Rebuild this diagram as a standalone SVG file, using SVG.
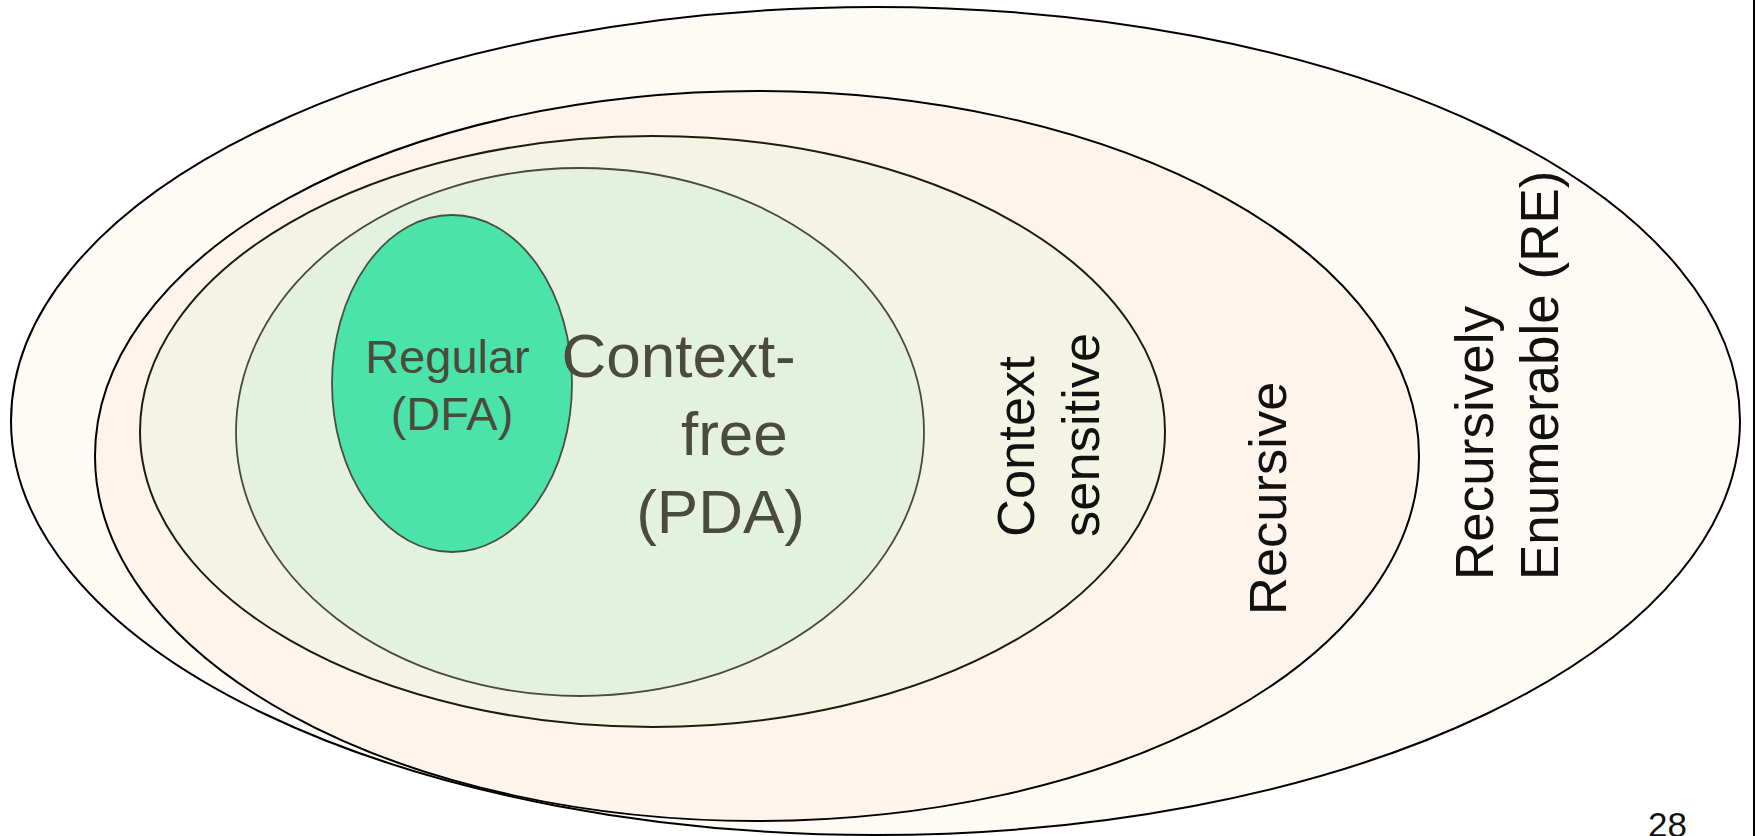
<svg xmlns="http://www.w3.org/2000/svg" width="1756" height="836" viewBox="0 0 1756 836">
  <style>
    .set { stroke-width: 2; }
    .lbl { font-family: "Liberation Sans", Arial, sans-serif; }
    .dark { fill: #4b4b3c; }
    .black { fill: #111111; }
  </style>
  <rect width="1756" height="836" fill="#ffffff"/>

  <!-- Recursively enumerable -->
  <g id="re">
    <ellipse class="set" cx="875.5" cy="421" rx="864.5" ry="414" fill="#fefaf6" stroke="#000000"/>
    <text class="lbl black" font-size="53" transform="translate(1493 580) rotate(-90)">Recursively</text>
    <text class="lbl black" font-size="53" transform="translate(1558 580) rotate(-90)">Enumerable (RE)</text>
  </g>

  <!-- Recursive -->
  <g id="recursive">
    <ellipse class="set" cx="757" cy="456" rx="662" ry="365" fill="#fef4ec" stroke="#000000"/>
    <text class="lbl black" font-size="52.5" transform="translate(1286 615) rotate(-90)">Recursive</text>
  </g>

  <!-- Context sensitive -->
  <g id="context-sensitive">
    <ellipse class="set" cx="652.5" cy="431.5" rx="512.5" ry="295.5" fill="#f3f4e3" stroke="#1e1a12"/>
    <text class="lbl black" font-size="52.5" transform="translate(1034 537) rotate(-90)">Context</text>
    <text class="lbl black" font-size="52.5" transform="translate(1099 537) rotate(-90)">sensitive</text>
  </g>

  <!-- Context-free, with the regular set nested inside it -->
  <g id="context-free">
    <ellipse cx="580" cy="432" rx="344" ry="264" fill="#e4f1de" stroke="#4a4a3a" stroke-width="1.8"/>

    <g id="regular">
      <ellipse cx="452" cy="383.5" rx="120" ry="168.5" fill="#4ce3ab" stroke="#4a5040" stroke-width="1.8"/>
      <text class="lbl dark" font-size="47" text-anchor="middle">
        <tspan x="454" y="373">Regular</tspan>
        <tspan x="452" y="430">(DFA)</tspan>
      </text>
    </g>

    <text class="lbl dark" font-size="62" text-anchor="end">
      <tspan x="813" y="377">Context-</tspan>
      <tspan x="805" y="455">free</tspan>
      <tspan x="805" y="533">(PDA)</tspan>
    </text>
  </g>

  <g id="connectors"/>

  <!-- page edge and number -->
  <line x1="1754" y1="0" x2="1754" y2="836" stroke="#000000" stroke-width="2"/>
  <text class="lbl black" font-size="35" x="1648" y="837">28</text>
</svg>
